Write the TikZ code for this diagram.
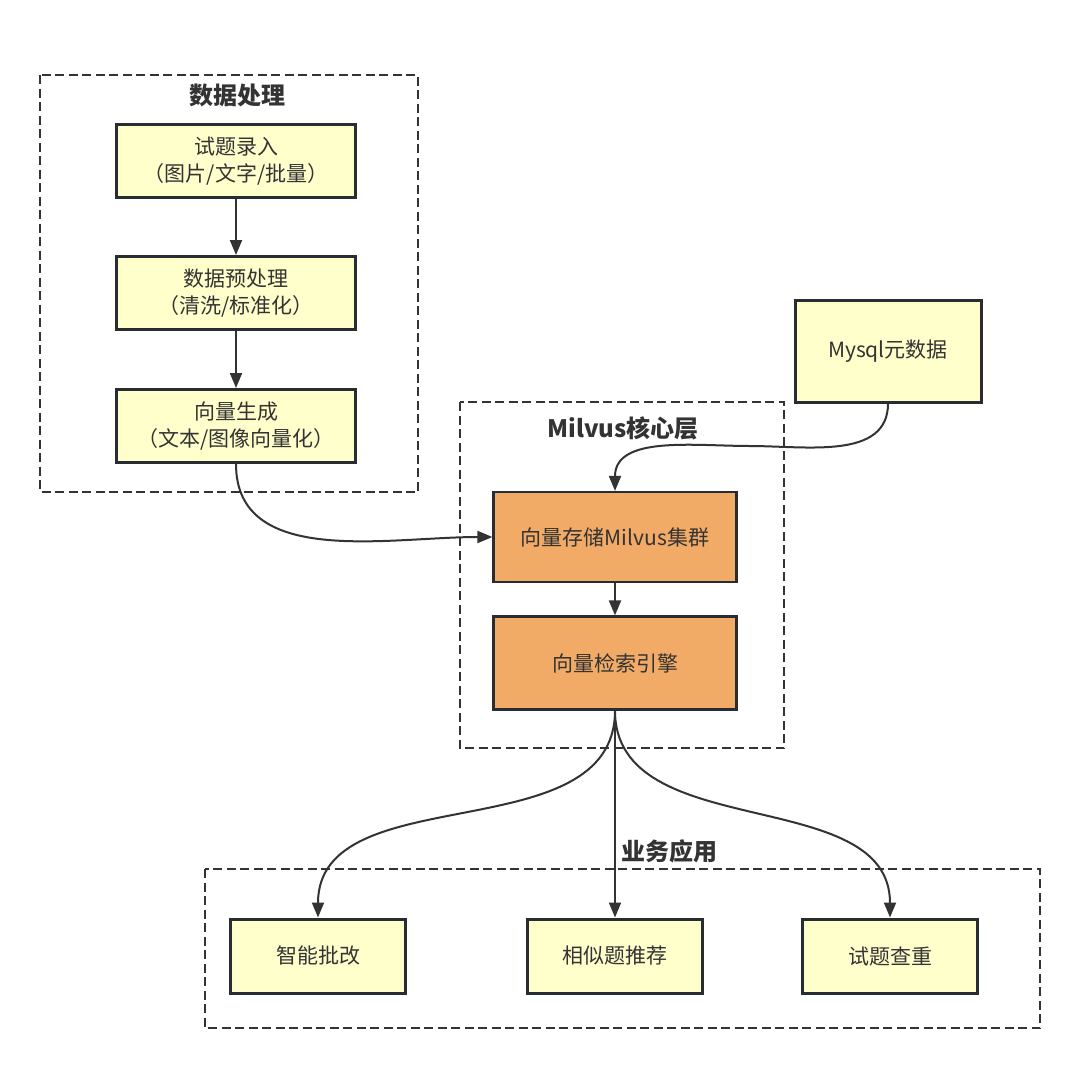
\documentclass[tikz,border=0pt]{standalone}
\usepackage{fontspec}
\setmainfont{Noto Sans CJK SC}
\usetikzlibrary{arrows.meta}
\definecolor{boxfill}{HTML}{FFFFCC}
\definecolor{corefill}{HTML}{F2AB67}
\definecolor{linegray}{HTML}{333333}
\definecolor{edgegray}{HTML}{272D33}

\begin{document}
\begin{tikzpicture}[x=1pt,y=-1pt,
		font=\fontsize{21}{27}\selectfont, text=linegray,
		proc/.style={draw=edgegray, line width=3pt, fill=boxfill, minimum width=239pt, minimum height=73pt, align=center, inner sep=0pt},
		appbox/.style={proc, minimum width=175pt, minimum height=74pt},
		core/.style={draw=edgegray, line width=2.2pt, fill=corefill, minimum width=243pt, align=center, inner sep=0pt},
		group/.style={draw=linegray, line width=2pt, dash pattern=on 9pt off 4.5pt},
		grouptitle/.style={font=\fontsize{24}{28}\selectfont\bfseries},
		flow/.style={draw=linegray, line width=2pt, -{Triangle[length=15pt,width=12pt]}}]
		\useasboundingbox (0,0) rectangle (1080,1069);
		\fill[white] (0,0) rectangle (1080,1069);
		
		\draw[group] (40,75) rectangle (418,492);
		\draw[group] (460,402) rectangle (784,748);
		\draw[group] (205,869) rectangle (1040,1028);
		\node[grouptitle] (t1) at (237,95) {数据处理};
		\node[grouptitle] (t2) at (623,428) {Milvus核心层};
		\node[grouptitle] (t3) at (669,851) {业务应用};
		
		\node[proc] (input) at (236,161) {试题录入\\（图片/文字/批量）};
		\node[proc] (prep) at (236,293) {数据预处理\\（清洗/标准化）};
		\node[proc] (vec) at (236,426) {向量生成\\（文本/图像向量化）};
		\node[proc, minimum width=186pt, minimum height=102pt] (meta) at (888,351) {Mysql元数据};
		
		\node[core, minimum height=90pt] (store) at (615,537) {向量存储Milvus集群};
		\node[core, minimum height=93pt] (engine) at (615,663) {向量检索引擎};
		
		\node[appbox] (grade) at (318,956) {智能批改};
		\node[appbox] (recom) at (615,956) {相似题推荐};
		\node[appbox] (dup) at (890,956) {试题查重};
		
		\coordinate (bend) at (750,446);
		\draw[flow] (input) -- (prep);
		\draw[flow] (prep) -- (vec);
		\draw[flow] (vec.south) to[out=-90,in=180] (store.west);
		\draw[flow] (meta.south) to[out=-90,in=0] (bend) to[out=180,in=90] (store.north);
		\draw[flow] (store) -- (engine);
		\draw[flow] (engine.south) to[out=-90,in=90] (grade.north);
		\draw[flow] (engine.south) -- (recom.north);
		\draw[flow] (engine.south) to[out=-90,in=90] (dup.north);
	\end{tikzpicture}
\end{document}
